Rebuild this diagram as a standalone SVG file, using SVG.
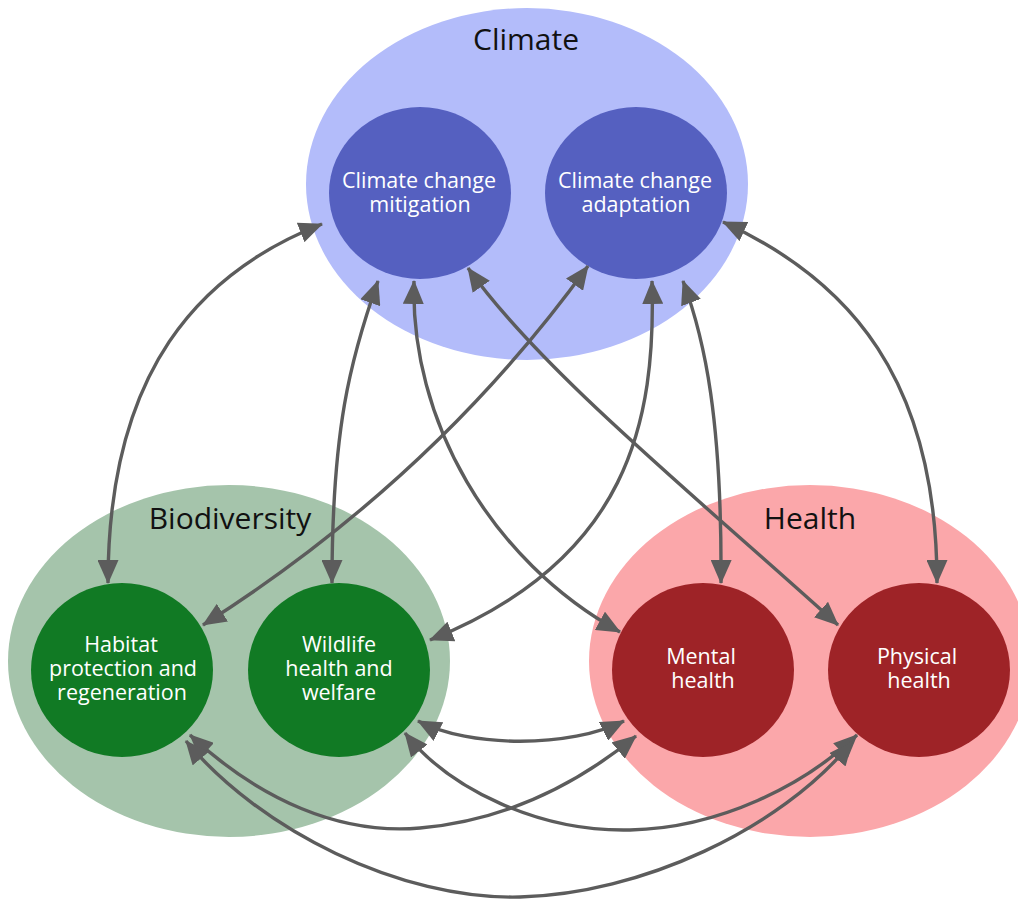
<svg xmlns="http://www.w3.org/2000/svg" width="1018" height="900" viewBox="0 0 1018 900">
<style>
  .title { font-family: "Open Sans", "Liberation Sans", sans-serif; font-size: 30px; fill: #111111; text-anchor: middle; }
  .label { font-family: "Open Sans", "Liberation Sans", sans-serif; font-size: 21.5px; fill: #ffffff; text-anchor: middle; }
  .conn { fill: none; stroke: #5c5c5c; stroke-width: 3.4; marker-start: url(#arrow); marker-end: url(#arrow); }
  .climate-bg { fill: #b3bcfa; }
  .climate-node { fill: #5560c0; }
  .bio-bg { fill: #a5c4ab; }
  .bio-node { fill: #117a24; }
  .health-bg { fill: #fba7aa; }
  .health-node { fill: #9e2327; }
</style>
<defs>
  <marker id="arrow" markerUnits="userSpaceOnUse" markerWidth="24" markerHeight="21" refX="23" refY="10.5" orient="auto-start-reverse" viewBox="0 0 24 21">
    <path d="M0,0 L24,10.5 L0,21 z" fill="#5c5c5c"/>
  </marker>
</defs>
<rect width="1018" height="900" fill="#ffffff"/>

<g id="climate-group">
  <ellipse class="climate-bg" cx="527" cy="184" rx="221" ry="176"/>
  <text class="title" x="526" y="50">Climate</text>
</g>
<g id="biodiversity-group">
  <ellipse class="bio-bg" cx="229" cy="661" rx="221" ry="176"/>
  <text class="title" x="230" y="529">Biodiversity</text>
</g>
<g id="health-group">
  <ellipse class="health-bg" cx="810" cy="661" rx="221" ry="176"/>
  <text class="title" x="810" y="529">Health</text>
</g>

<g id="node-mitigation">
  <ellipse class="climate-node" cx="420" cy="193" rx="91" ry="86"/>
  <text class="label" x="419" y="188">Climate change</text>
  <text class="label" x="420" y="212">mitigation</text>
</g>
<g id="node-adaptation">
  <ellipse class="climate-node" cx="636" cy="193" rx="91" ry="86"/>
  <text class="label" x="635" y="188">Climate change</text>
  <text class="label" x="636" y="212">adaptation</text>
</g>
<g id="node-habitat">
  <ellipse class="bio-node" cx="122" cy="670" rx="91" ry="87"/>
  <text class="label" x="121" y="652">Habitat</text>
  <text class="label" x="123" y="676">protection and</text>
  <text class="label" x="122" y="700">regeneration</text>
</g>
<g id="node-wildlife">
  <ellipse class="bio-node" cx="339" cy="670" rx="91" ry="87"/>
  <text class="label" x="339" y="652">Wildlife</text>
  <text class="label" x="339" y="676">health and</text>
  <text class="label" x="339" y="700">welfare</text>
</g>
<g id="node-mental">
  <ellipse class="health-node" cx="703" cy="670" rx="91" ry="87"/>
  <text class="label" x="701" y="664">Mental</text>
  <text class="label" x="703" y="688">health</text>
</g>
<g id="node-physical">
  <ellipse class="health-node" cx="919" cy="670" rx="91" ry="87"/>
  <text class="label" x="917" y="664">Physical</text>
  <text class="label" x="919" y="688">health</text>
</g>

<g id="connectors">
  <path class="conn" d="M322,224 C200,272 108,370 108,583"/>
  <path class="conn" d="M378,281 C350,360 332,430 332,583"/>
  <path class="conn" d="M414,281 C410,420 490,560 620,632"/>
  <path class="conn" d="M468,268 C540,370 700,500 838,625"/>
  <path class="conn" d="M588,266 C520,360 400,500 203,625"/>
  <path class="conn" d="M652,281 C656,420 630,560 430,640"/>
  <path class="conn" d="M683,281 C705,340 722,420 721,583"/>
  <path class="conn" d="M723,222 C850,280 937,380 937,583"/>
  <path class="conn" d="M418,721 C470,748 570,748 624,721"/>
  <path class="conn" d="M405,733 C450,790 540,832 630,830 S805,785 857,735"/>
  <path class="conn" d="M190,735 C260,800 340,835 420,828 S570,790 636,736"/>
  <path class="conn" d="M186,741 C260,830 400,900 520,897 S780,830 852,742"/>
</g>
</svg>
